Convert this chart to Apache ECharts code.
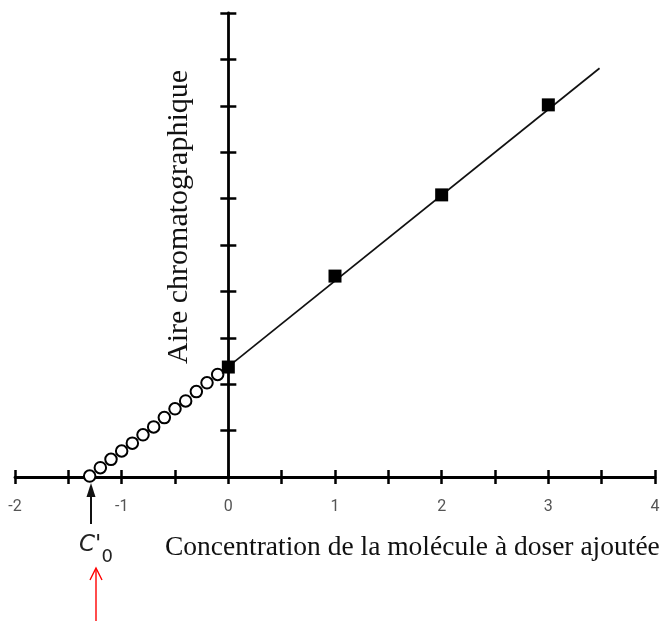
<!DOCTYPE html>
<html>
<head>
<meta charset="utf-8">
<script src="https://cdn.jsdelivr.net/npm/echarts@6/dist/echarts.min.js"></script>
<style>
  html, body { margin: 0; padding: 0; background: #fff; }
  #chart { width: 667px; height: 621px; }
</style>
</head>
<body>
<div id="chart"></div>
<script>
// Standard additions (measured areas)
const standardX = [0, 1, 2, 3];
const standardY = [2.37, 4.33, 6.08, 8.02];

// Extrapolated points down to the x-intercept
const extrapX = [-1.3, -1.2, -1.1, -1.0, -0.9, -0.8, -0.7, -0.6, -0.5, -0.4, -0.3, -0.2, -0.1];
const extrapY = [0.02, 0.20, 0.38, 0.56, 0.73, 0.91, 1.08, 1.28, 1.47, 1.64, 1.84, 2.03, 2.21];

// Fitted calibration line end points
const fitX = [0, 3.48];
const fitY = [2.38, 8.81];

// Unknown concentration read at the x-intercept
const c0 = -1.29;

// Axis tick labels
const xTickValues = [-2, -1, 0, 1, 2, 3, 4];
const xTickLabels = ['-2', '-1', '0', '1', '2', '3', '4'];

const AXIS = '#000';
const labelFor = v => {
  const i = xTickValues.findIndex(t => Math.abs(t - v) < 1e-9);
  return i >= 0 ? xTickLabels[i] : '';
};

const chart = echarts.init(document.getElementById('chart'), null, { renderer: 'canvas' });

const xBase = {
  type: 'value', min: -2, max: 4, interval: 0.5, position: 'bottom',
  splitLine: { show: false }
};
const yBase = {
  type: 'value', min: 0, max: 10, interval: 1, position: 'left',
  splitLine: { show: false }, axisLabel: { show: false }
};

chart.setOption({
  animation: false,
  backgroundColor: '#fff',
  grid: { left: 15, right: 12, top: 13, bottom: 144, containLabel: false },
  xAxis: [
    Object.assign({}, xBase, {
      axisLine: { onZero: false, lineStyle: { color: AXIS, width: 2.8 } },
      axisTick: { inside: false, length: 7, lineStyle: { color: AXIS, width: 2.5 } },
      axisLabel: { margin: 22, color: '#555', fontSize: 16, fontFamily: 'Roboto', formatter: labelFor }
    }),
    Object.assign({}, xBase, {
      axisLine: { show: false, onZero: false },
      axisTick: { inside: true, length: 7, lineStyle: { color: AXIS, width: 2.5 } },
      axisLabel: { show: false }
    })
  ],
  yAxis: [
    Object.assign({}, yBase, {
      axisLine: { onZero: true, lineStyle: { color: AXIS, width: 2.8 } },
      axisTick: { inside: false, length: 8, lineStyle: { color: AXIS, width: 2.5 } }
    }),
    Object.assign({}, yBase, {
      axisLine: { show: false, onZero: true },
      axisTick: { inside: true, length: 8, lineStyle: { color: AXIS, width: 2.5 } }
    })
  ],
  series: [
    {
      name: 'Droite d\'étalonnage',
      type: 'line',
      xAxisIndex: 0, yAxisIndex: 0,
      data: fitX.map((x, i) => [x, fitY[i]]),
      symbol: 'none',
      lineStyle: { color: '#111', width: 1.7 },
      z: 3
    },
    {
      name: 'Extrapolation',
      type: 'scatter',
      xAxisIndex: 0, yAxisIndex: 0,
      data: extrapX.map((x, i) => [x, extrapY[i]]),
      symbol: 'circle',
      symbolSize: 11.5,
      itemStyle: { color: '#fff', borderColor: '#000', borderWidth: 2, opacity: 1 },
      z: 4
    },
    {
      name: 'Ajouts dosés',
      type: 'scatter',
      xAxisIndex: 0, yAxisIndex: 0,
      data: standardX.map((x, i) => [x, standardY[i]]),
      symbol: 'rect',
      symbolSize: 13,
      itemStyle: { color: '#000', opacity: 1 },
      z: 5
    }
  ]
});

// Annotations placed relative to the x-intercept
const p = chart.convertToPixel({ xAxisIndex: 0, yAxisIndex: 0 }, [c0, 0]);
const ax = Math.round(p[0]);
const ay = p[1];

chart.setOption({
  graphic: [
    // black arrow pointing up to the intercept
    { type: 'line', shape: { x1: ax, y1: ay + 47, x2: ax, y2: ay + 18 },
      style: { stroke: '#111', lineWidth: 2 } },
    { type: 'polygon', shape: { points: [[ax, ay + 6], [ax - 4.5, ay + 20], [ax + 4.5, ay + 20]] },
      style: { fill: '#111' } },
    // C'0 label
    { type: 'text', x: ax - 12, y: ay + 57,
      style: {
        text: '{c|C\'}{s|0}',
        rich: {
          c: { fontFamily: 'DejaVu Sans', fontStyle: 'italic', fontSize: 23, fill: '#222', verticalAlign: 'top' },
          s: { fontFamily: 'DejaVu Sans', fontSize: 18, fill: '#222', padding: [14, 0, 0, 0] }
        },
        verticalAlign: 'top'
      } },
    // red arrow underneath
    { type: 'line', shape: { x1: ax + 5, y1: 621, x2: ax + 5, y2: ay + 92 },
      style: { stroke: '#f00', lineWidth: 1.4 } },
    { type: 'polyline', shape: { points: [[ax - 1, ay + 103], [ax + 5, ay + 91], [ax + 11, ay + 103]] },
      style: { stroke: '#f00', lineWidth: 1.4, fill: null } },
    // axis titles
    { type: 'text', x: 165, y: 548,
      style: { text: 'Concentration de la molécule à doser ajoutée',
        fontFamily: 'Liberation Serif', fontSize: 27.5, fill: '#111',
        align: 'left', verticalAlign: 'middle' } },
    { type: 'text', x: 179, y: 217, rotation: Math.PI / 2,
      style: { text: 'Aire chromatographique',
        fontFamily: 'Liberation Serif', fontSize: 30, fill: '#111',
        align: 'center', verticalAlign: 'middle' } }
  ]
});
</script>
</body>
</html>
